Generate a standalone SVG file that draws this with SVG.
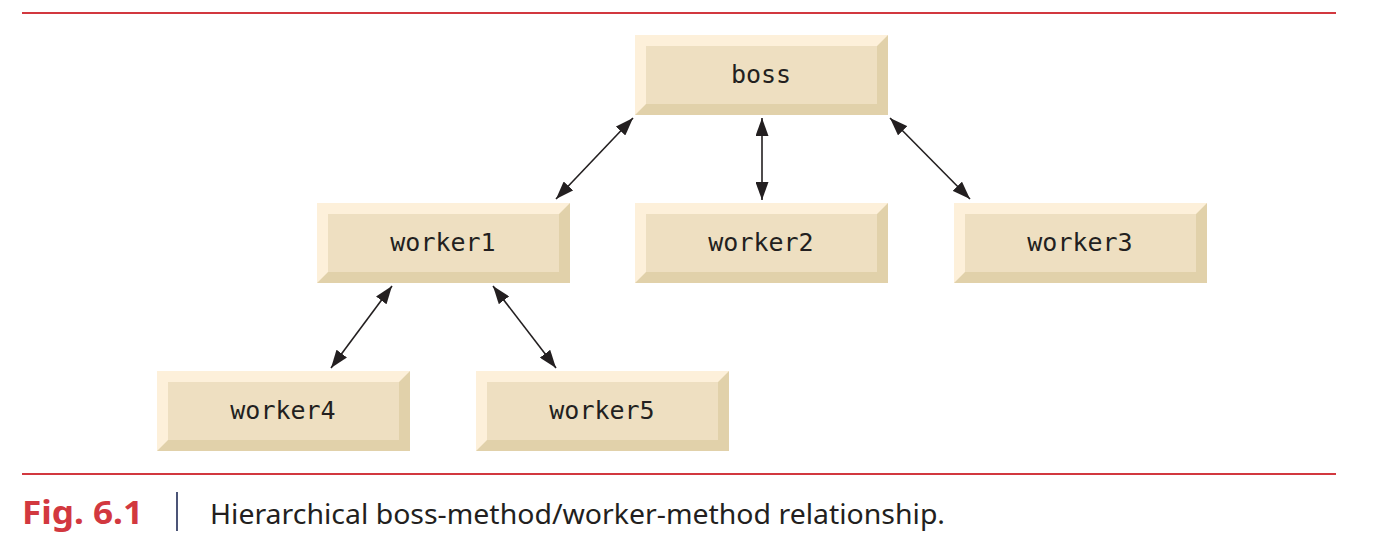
<svg xmlns="http://www.w3.org/2000/svg" width="1384" height="553" viewBox="0 0 1384 553">
<style>
.lt{fill:#fdf0da}
.dk{fill:#e1d1aa}
.face{fill:#eedfc1}
.lbl{font-family:"DejaVu Sans Mono","Liberation Mono",monospace;font-size:25px;fill:#231f20;text-anchor:middle}
.conn{stroke:#231f20;stroke-width:1.6;fill:none;marker-start:url(#ah);marker-end:url(#ah)}
.rule{stroke:#d2383f;stroke-width:2}
</style>
<defs>
<marker id="ah" viewBox="0 0 18 13" refX="18" refY="6.5" markerWidth="18" markerHeight="13" markerUnits="userSpaceOnUse" orient="auto-start-reverse">
<path d="M0,0 L18,6.5 L0,13 Z" fill="#231f20"/>
</marker>
<g id="box">
<rect x="0" y="0" width="253" height="80" class="lt"/>
<polygon points="253,0 253,80 0,80 11,69 242,69 242,11" class="dk"/>
<rect x="11" y="11" width="231" height="58" class="face"/>
</g>
</defs>
<line class="rule" x1="22" y1="13" x2="1336" y2="13"/>
<line class="rule" x1="22" y1="474" x2="1336" y2="474"/>
<g id="connectors">
<line class="conn" x1="633" y1="118" x2="556" y2="199"/>
<line class="conn" x1="762" y1="118" x2="762" y2="200"/>
<line class="conn" x1="890" y1="118" x2="970" y2="199"/>
<line class="conn" x1="392" y1="286" x2="331" y2="368"/>
<line class="conn" x1="493" y1="286" x2="556" y2="368"/>
</g>
<g id="boss"><use href="#box" x="635" y="35"/><text class="lbl" x="761" y="83">boss</text></g>
<g id="worker1"><use href="#box" x="317" y="203"/><text class="lbl" x="443" y="251">worker1</text></g>
<g id="worker2"><use href="#box" x="635" y="203"/><text class="lbl" x="761" y="251">worker2</text></g>
<g id="worker3"><use href="#box" x="954" y="203"/><text class="lbl" x="1080" y="251">worker3</text></g>
<g id="worker4"><use href="#box" x="157" y="371"/><text class="lbl" x="283" y="419">worker4</text></g>
<g id="worker5"><use href="#box" x="476" y="371"/><text class="lbl" x="602" y="419">worker5</text></g>
<g id="caption">
<text x="22" y="524" font-family="'Noto Sans','Liberation Sans',sans-serif" font-weight="bold" font-size="32" fill="#d2383f" textLength="121" lengthAdjust="spacingAndGlyphs">Fig. 6.1</text>
<line x1="177" y1="492" x2="177" y2="531" stroke="#1f2a55" stroke-width="1.6"/>
<text x="210" y="524" font-family="'Noto Sans','Liberation Sans',sans-serif" font-size="28" fill="#231f20" textLength="735" lengthAdjust="spacingAndGlyphs">Hierarchical boss-method/worker-method relationship.</text>
</g>
</svg>
